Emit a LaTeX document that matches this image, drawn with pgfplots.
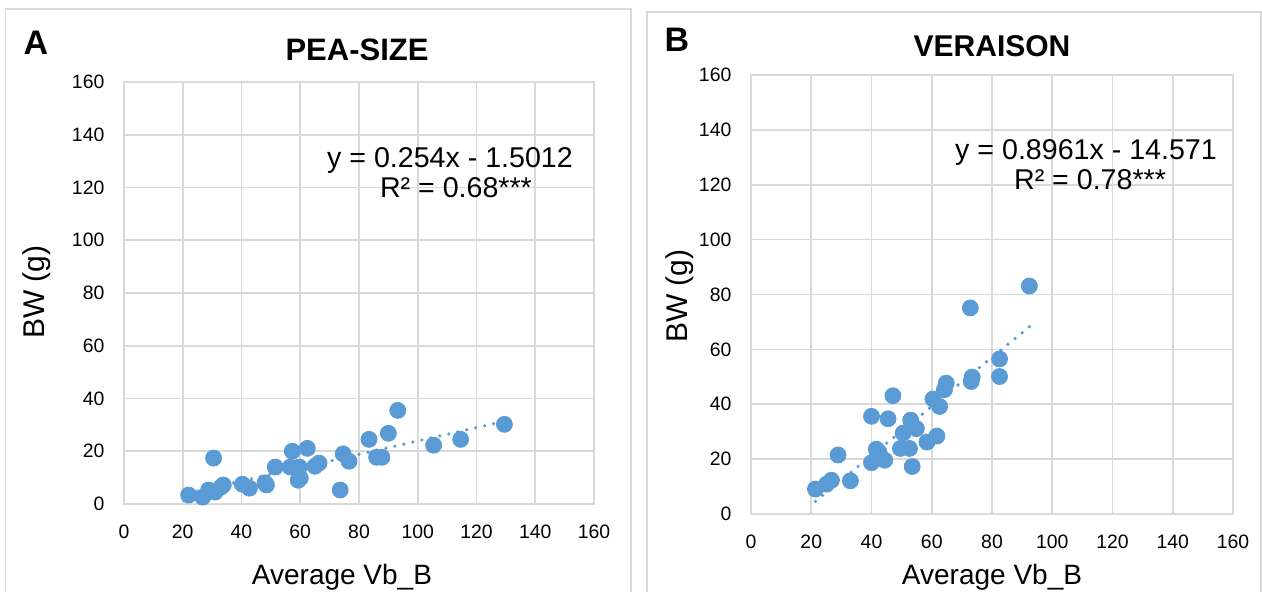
\documentclass[border=0pt]{standalone}
\usepackage{pgfplots}
\pgfplotsset{compat=1.18}
\usepackage{fontspec}
\setmainfont{Liberation Sans}
\definecolor{exblue}{RGB}{91,155,213}
\definecolor{gridgray}{RGB}{217,217,217}
\pgfplotsset{
  panel/.style={
    anchor=south west, scale only axis,
    xmin=0,xmax=160,ymin=0,ymax=160,
    xtick={0,20,...,160}, ytick={0,20,...,160},
    grid=major,
    major grid style={draw=gridgray, line width=0.8pt},
    axis line style={draw=gridgray, line width=0.8pt},
    tick style={draw=none},
    ticklabel style={font=\fontsize{9.7}{11}\selectfont},
    /pgf/number format/assume math mode=true,
    xticklabel style={yshift=-7pt},
    yticklabel style={xshift=-6.3pt},
    clip=false,
  },
  pts/.style={only marks, mark=*, mark size=4pt, color=exblue, mark options={draw=exblue, fill=exblue}},
  trend/.style={no marks, color=exblue, line width=1.8pt, line cap=round, dash pattern=on 0pt off 4.6pt},
}
\begin{document}
\begin{tikzpicture}
\useasboundingbox (0,0) rectangle (631pt,296pt);
% panel frames
\draw[gridgray, line width=0.8pt] (2.75pt,-5pt) rectangle (315.5pt,291.5pt);
\draw[gridgray, line width=0.8pt] (323.5pt,-5pt) rectangle (630.5pt,290pt);
% Panel A
\begin{axis}[panel, at={(62pt,44pt)}, width=235pt, height=211pt]
\addplot[pts] coordinates {
(22.0,3.4) (26.8,2.6) (28.8,5.3) (30.5,17.4) (31.0,4.5) (33.0,6.4) (33.8,7.2)
(40.3,7.5) (42.7,6.0) (48.0,8.0) (48.5,7.2) (51.5,14.0) (57.3,20.0) (56.6,14.0)
(59.7,14.0) (60.0,9.8) (59.3,9.0) (62.4,21.1) (65.0,14.3) (66.4,15.5) (73.6,5.3)
(74.6,19.0) (76.6,16.2) (83.4,24.5) (86.0,17.7) (87.8,17.7) (90.0,26.8) (93.2,35.5)
(105.4,22.3) (114.6,24.5) (129.5,30.2)
};
\addplot[trend] coordinates {(22.0,4.087) (129.5,31.39)};
\end{axis}
% Panel B
\begin{axis}[panel, at={(375.5pt,39pt)}, width=241pt, height=219.5pt]
\addplot[pts] coordinates {
(21.4,9.1) (25.1,10.9) (26.7,12.3) (28.9,21.5) (33.0,12.1) (40.0,35.6) (40.0,18.7)
(41.6,23.6) (41.8,20.5) (42.5,22.5) (44.4,19.6) (45.5,34.7) (47.1,43.1) (49.6,23.9)
(50.5,29.5) (52.6,23.9) (53.5,17.3) (53.0,34.2) (54.9,31.1) (58.4,26.2) (61.7,28.4)
(60.4,41.9) (62.6,39.2) (64.2,45.3) (64.8,47.7) (73.1,48.3) (73.4,49.9) (72.8,75.1)
(82.5,56.5) (82.5,50.1) (92.4,83.1)
};
\addplot[trend] coordinates {(21.4,4.606) (92.4,68.23)};
\end{axis}
% titles and labels
\node[font=\fontsize{17}{20}\selectfont\bfseries] at (18pt,274.5pt) {A};
\node[font=\fontsize{17}{20}\selectfont\bfseries] at (338.5pt,276pt) {B};
\node[font=\fontsize{15.5}{18}\selectfont\bfseries] at (178.5pt,271pt) {PEA-SIZE};
\node[font=\fontsize{15}{18}\selectfont\bfseries] at (496pt,273pt) {VERAISON};
\node[font=\fontsize{14}{16}\selectfont, anchor=base] at (171pt,3.5pt) {Average Vb\_B};
\node[font=\fontsize{14}{16}\selectfont, anchor=base] at (496pt,3.5pt) {Average Vb\_B};
\node[font=\fontsize{15}{16}\selectfont, rotate=90] at (18.5pt,150pt) {BW (g)};
\node[font=\fontsize{15}{16}\selectfont, rotate=90] at (340pt,148pt) {BW (g)};
\node[font=\fontsize{14.3}{16}\selectfont, anchor=base] at (225pt,212pt) {y = 0.254x - 1.5012};
\node[font=\fontsize{14.3}{16}\selectfont, anchor=base] at (228pt,197pt) {R² = 0.68***};
\node[font=\fontsize{14.3}{16}\selectfont, anchor=base] at (543pt,216pt) {y = 0.8961x - 14.571};
\node[font=\fontsize{14.3}{16}\selectfont, anchor=base] at (545pt,201pt) {R² = 0.78***};
\end{tikzpicture}
\end{document}
